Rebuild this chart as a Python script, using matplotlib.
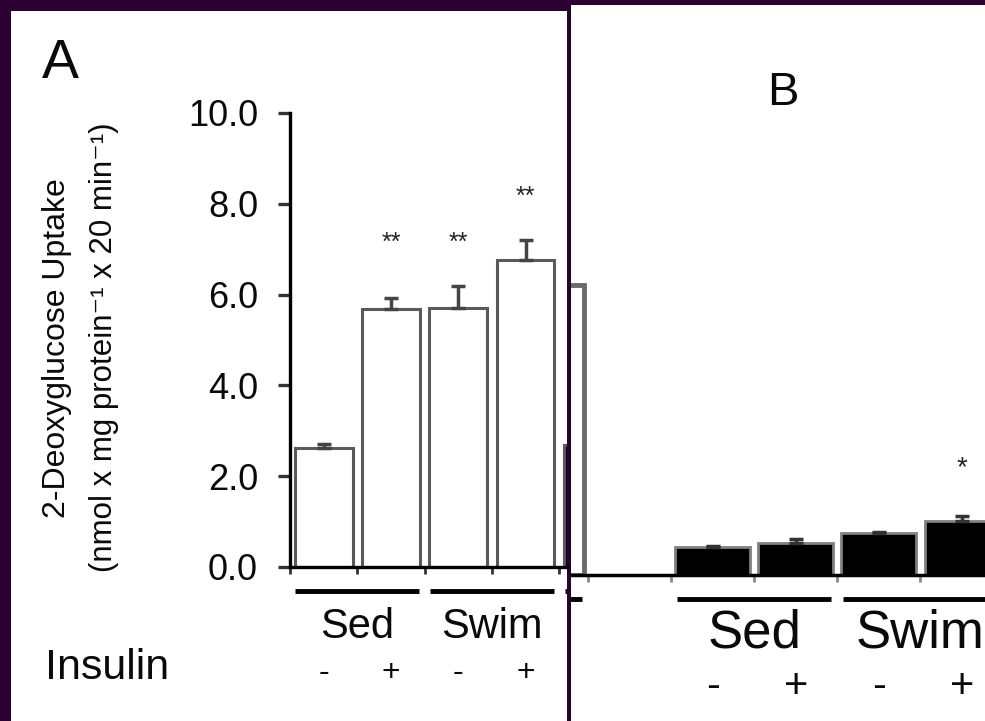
import matplotlib
matplotlib.use("Agg")
import matplotlib.pyplot as plt
import matplotlib.transforms as mtransforms
from matplotlib.patches import Rectangle
import numpy as np

# ---------------- data ----------------
a_conditions = ["Sed -", "Sed +", "Swim -", "Swim +", "next"]
a_values = [2.62, 5.68, 5.70, 6.76, 2.69]
a_errors = [0.08, 0.25, 0.49, 0.44, 0.0]
a_colors = ["white", "white", "white", "white", "black"]
a_stars = ["", "**", "**", "**", ""]
a_star_y = [None, 7.15, 7.15, 8.15, None]
a_groups = ["Sed", "Swim", ""]
a_signs = ["-", "+", "-", "+"]
a_yticks = [0, 2, 4, 6, 8, 10]
a_yticklabels = ["0.0", "2.0", "4.0", "6.0", "8.0", "10.0"]

b_prev_value = 6.39          # partially visible bar at the left edge of panel B
b_values = [0.62, 0.70, 0.93, 1.19]
b_errors = [0.02, 0.09, 0.02, 0.11]
b_stars = ["", "", "", "*"]
b_star_y = [None, None, None, 2.36]
b_groups = ["", "Sed", "Swim"]
b_group_spans = [(-2, 0), (1, 3), (3, 5)]
b_signs = ["-", "+", "-", "+"]

ylabel1 = "2-Deoxyglucose Uptake"
ylabel2 = "(nmol x mg protein\u207b\u00b9 x 20 min\u207b\u00b9)"

# ---------------- figure ----------------
W, H = 985, 721
fig = plt.figure(figsize=(W / 100, H / 100), dpi=100)
purple = "#2d0033"
fig.patch.set_facecolor(purple)
FONT = ["Liberation Sans", "DejaVu Sans"]
plt.rcParams["font.family"] = FONT
TXT = "#0a0a0a"

def fx(px):
    return px / W

def fy(py):
    return 1 - py / H

# white panels (behind the axes)
fig.patches.append(Rectangle((fx(11), 0), fx(567) - fx(11), fy(11), transform=fig.transFigure,
                             facecolor="white", edgecolor="none", zorder=-5))
fig.patches.append(Rectangle((fx(571), 0), fx(985) - fx(571), fy(5), transform=fig.transFigure,
                             facecolor="white", edgecolor="none", zorder=-5))

clipA = mtransforms.TransformedBbox(mtransforms.Bbox([[fx(11), 0], [fx(567), 1]]), fig.transFigure)
clipB = mtransforms.TransformedBbox(mtransforms.Bbox([[fx(571), 0], [1, 1]]), fig.transFigure)

# ---------------- panel A ----------------
axA = fig.add_axes([fx(290), fy(567), fx(567) - fx(290), (567 - 113) / H])
axA.set_facecolor("none")
axA.set_xlim(0, (567 - 290) / 67.3)
axA.set_ylim(0, 10)
xa = np.arange(len(a_values)) + 0.5
axA.bar(xa, a_values, width=0.86, color=a_colors, edgecolor="#5a5a5a", linewidth=2.2, zorder=2)
axA.errorbar(xa[:4], a_values[:4], yerr=[np.zeros(4), a_errors[:4]], fmt="none",
             ecolor="#444444", elinewidth=2.5, capsize=5, capthick=2.5, zorder=3)
for x, s, sy in zip(xa, a_stars, a_star_y):
    if s:
        axA.text(x, sy, s, ha="center", va="center", fontsize=18, color="#222222")
for side in ["top", "right"]:
    axA.spines[side].set_visible(False)
axA.spines["left"].set_linewidth(2.4)
axA.spines["bottom"].set_linewidth(2.4)
axA.set_yticks(a_yticks)
axA.set_yticklabels(a_yticklabels, fontsize=26, color=TXT)
axA.tick_params(axis="y", direction="out", length=9, width=2.4, pad=14, color="#333333")
axA.set_xticks(np.arange(0, 5))
axA.set_xticklabels([])
axA.tick_params(axis="x", direction="out", length=5, width=2, color="#333333")

trA = mtransforms.blended_transform_factory(axA.transData, fig.transFigure)
for gi, g in enumerate(a_groups):
    x0 = gi * 2 + 0.08
    x1 = gi * 2 + 2 - 0.08
    ln, = axA.plot([x0, x1], [fy(591), fy(591)], transform=trA, color="black", lw=3.5,
                   solid_capstyle="butt")
    ln.set_clip_box(clipA)
    if g:
        axA.text(gi * 2 + 1, fy(627), g, transform=trA, ha="center", va="center",
                 fontsize=30, color=TXT)
for x, s in zip(xa[:4], a_signs):
    axA.text(x, fy(673), s, transform=trA, ha="center", va="center", fontsize=23, color=TXT)

fig.text(fx(45), fy(668), "Insulin", ha="left", va="center", fontsize=31, color=TXT)
fig.text(fx(60), fy(64), "A", ha="center", va="center", fontsize=40, color=TXT)
fig.text(fx(57), fy(348), ylabel1, rotation=90, ha="center", va="center", fontsize=23, color=TXT)
fig.text(fx(104), fy(347), ylabel2, rotation=90, ha="center", va="center", fontsize=22.5, color=TXT)

# ---------------- panel B ----------------
axB = fig.add_axes([fx(571), fy(575), fx(985) - fx(571), (575 - 121) / H])
axB.set_facecolor("none")
axB.set_xlim((571 - 588) / 83.1, (985 - 588) / 83.1)
axB.set_ylim(0, 10)
axB.bar([-0.5], [b_prev_value], width=0.9, color="white", edgecolor="#6a6a6a", linewidth=3.5, zorder=2)
xb = np.arange(len(b_values)) + 1.5
axB.bar(xb, b_values, width=0.9, color="black", edgecolor="#808080", linewidth=2, zorder=2)
axB.errorbar(xb, b_values, yerr=[np.zeros(4), b_errors], fmt="none",
             ecolor="#333333", elinewidth=2.5, capsize=5, capthick=2.5, zorder=3)
for x, s, sy in zip(xb, b_stars, b_star_y):
    if s:
        axB.text(x, sy, s, ha="center", va="center", fontsize=20, color="#222222")
for side in ["top", "right", "left"]:
    axB.spines[side].set_visible(False)
axB.spines["bottom"].set_linewidth(2.5)
axB.set_yticks([])
axB.set_xticks(np.arange(0, 5))
axB.set_xticklabels([])
axB.tick_params(axis="x", direction="out", length=5, width=2, color="#888888")

trB = mtransforms.blended_transform_factory(axB.transData, fig.transFigure)
for g, (s0, s1) in zip(b_groups, b_group_spans):
    ln, = axB.plot([s0 + 0.07, s1 - 0.07], [fy(599), fy(599)], transform=trB, color="black",
                   lw=3.5, solid_capstyle="butt")
    ln.set_clip_box(clipB)
    if g:
        axB.text((s0 + s1) / 2, fy(634), g, transform=trB, ha="center", va="center",
                 fontsize=38, color=TXT)
for x, s in zip(xb, b_signs):
    axB.text(x, fy(687), s, transform=trB, ha="center", va="center", fontsize=30, color=TXT)

fig.text(fx(783), fy(93), "B", ha="center", va="center", fontsize=34, color=TXT)

fig.savefig("out.png", dpi=100, facecolor=fig.get_facecolor())
